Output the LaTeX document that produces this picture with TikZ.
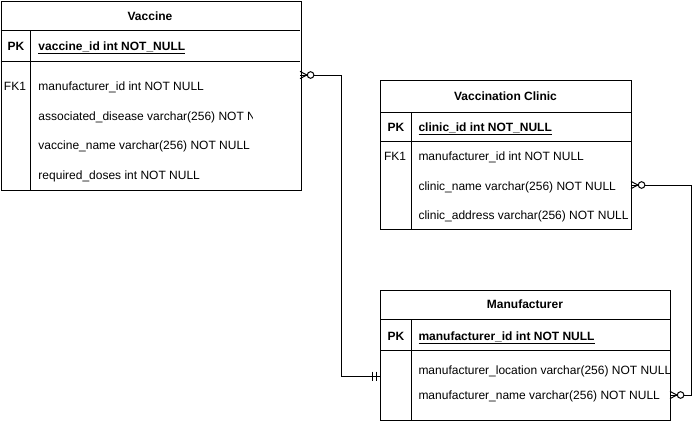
\documentclass[tikz,border=0pt]{standalone}
\usepackage{fontspec}
\setmainfont{Liberation Sans}
\begin{document}
\begin{tikzpicture}[x=0.75pt,y=-0.75pt,line width=0.75pt,
  font=\fontsize{9}{11}\selectfont,
  tbl/.style={draw,anchor=north west,inner sep=0pt},
  txt/.style={anchor=west,inner sep=0pt,text height=8pt,text depth=1.5pt},
  hdr/.style={inner sep=0pt,text height=8pt,text depth=1.5pt,font=\fontsize{9}{11}\selectfont\bfseries},
  key/.style={inner sep=0pt,text height=8pt,text depth=1.5pt},
  zmany/.pic={
    \draw (0,-3.6) -- (7,0) -- (0,3.6);
    \draw (0,0) -- (7,0);
    \draw[fill=white] (10.6,0) circle[radius=3.3];
  },
  onebar/.pic={
    \draw (-4,-4.5) -- (-4,4.5);
    \draw (-8,-4.5) -- (-8,4.5);
  }]
\useasboundingbox (0,0) rectangle (700,421);

% ---------- Vaccine ----------
\node[tbl,minimum width=225pt,minimum height=141.75pt] (vac) at (0.5,1) {};
\draw (0.5,30) -- (300,30);
\draw (0.5,61) -- (300,61);
\draw (30.5,30) -- (30.5,190);
\node[hdr] (vacT) at (150,16) {Vaccine};
\node[key,font=\fontsize{9}{11}\selectfont\bfseries] (vacPK) at (16,46) {PK};
\node[txt,font=\fontsize{9}{11}\selectfont\bfseries] (vacId) at (38,46) {\underline{vaccine\_id int NOT\_NULL}};
\node[key] (vacFK) at (15,86) {FK1};
\node[txt] (vacR1) at (38,86) {manufacturer\_id int NOT NULL};
\begin{scope}
\clip (31,100) rectangle (252,130);
\node[txt] (vacR2) at (38,116) {associated\_disease varchar(256) NOT NULL};
\end{scope}
\node[txt] (vacR3) at (38,145) {vaccine\_name varchar(256) NOT NULL};
\node[txt] (vacR4) at (38,175) {required\_doses int NOT NULL};

% ---------- Vaccination Clinic ----------
\node[tbl,minimum width=188.25pt,minimum height=111.75pt] (cli) at (380,80) {};
\draw (380,112) -- (631,112);
\draw (380,141) -- (631,141);
\draw (411,112) -- (411,229);
\node[hdr] (cliT) at (505.5,96) {Vaccination Clinic};
\node[key,font=\fontsize{9}{11}\selectfont\bfseries] (cliPK) at (396,127) {PK};
\node[txt,font=\fontsize{9}{11}\selectfont\bfseries] (cliId) at (418,127) {\underline{clinic\_id int NOT\_NULL}};
\node[key] (cliFK) at (395,156) {FK1};
\node[txt] (cliR1) at (418,156) {manufacturer\_id int NOT NULL};
\node[txt] (cliR2) at (418,186) {clinic\_name varchar(256) NOT NULL};
\node[txt] (cliR3) at (418,215) {clinic\_address varchar(256) NOT NULL};

% ---------- Manufacturer ----------
\node[tbl,minimum width=217.5pt,minimum height=97.5pt] (man) at (380,290) {};
\draw (380,319) -- (670,319);
\draw (380,350) -- (670,350);
\draw (411,319) -- (411,420);
\node[hdr] (manT) at (525,304) {Manufacturer};
\node[key,font=\fontsize{9}{11}\selectfont\bfseries] (manPK) at (396,336) {PK};
\node[txt,font=\fontsize{9}{11}\selectfont\bfseries] (manId) at (418,336) {\underline{manufacturer\_id int NOT NULL}};
\node[txt] (manR1) at (418,370) {manufacturer\_location varchar(256) NOT NULL};
\node[txt] (manR2) at (418,395) {manufacturer\_name varchar(256) NOT NULL};

% ---------- connectors ----------
\coordinate (vacE) at (300,75);
\coordinate (manW) at (380,376);
\coordinate (cliE) at (631,185);
\coordinate (manE) at (670,395);

\draw (vacE) -- (341,75) -- (341,376) -- (manW);
\path (vacE) pic {zmany};
\path (manW) pic {onebar};

\draw (cliE) -- (691,185) -- (691,395) -- (manE);
\path (cliE) pic {zmany};
\path (manE) pic {zmany};
\end{tikzpicture}
\end{document}
